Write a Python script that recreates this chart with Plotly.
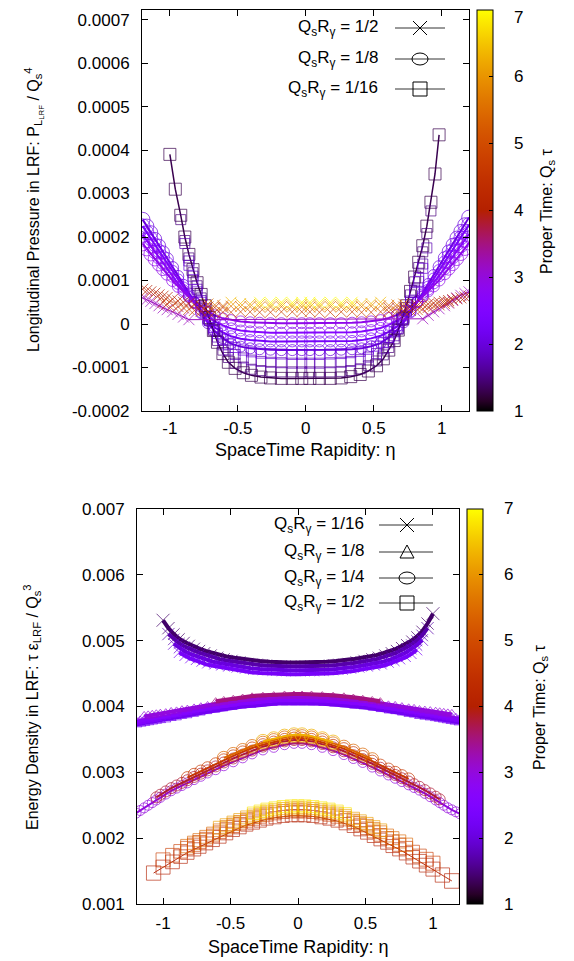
import math
import plotly.graph_objects as go

# ======================= DATA =======================
# Top panel: longitudinal pressure P_L / Qs^4   (values in units of 1e-4)
PL_UNIT = 1e-4
ETA_TOP_WIDE = [-1.2, -1.17, -1.14, -1.11, -1.08, -1.05, -1.02, -0.98, -0.94, -0.9, -0.86, -0.82,
                -0.77, -0.72, -0.67, -0.61, -0.55, -0.48, -0.41, -0.34, -0.26, -0.18, -0.1, -0.03,
                0.03, 0.1, 0.18, 0.26, 0.34, 0.41, 0.48, 0.55, 0.61, 0.67, 0.72, 0.77,
                0.82, 0.86, 0.9, 0.94, 0.98, 1.02, 1.05, 1.08, 1.11, 1.14, 1.17, 1.2]
ETA_TOP_SQ = [-1.0, -0.96, -0.92, -0.89, -0.86, -0.83, -0.8, -0.77, -0.74, -0.71, -0.68, -0.65,
              -0.61, -0.57, -0.52, -0.46, -0.4, -0.33, -0.26, -0.18, -0.1, -0.03,
              0.03, 0.1, 0.18, 0.26, 0.33, 0.4, 0.46, 0.52, 0.57, 0.61, 0.65, 0.68,
              0.71, 0.74, 0.77, 0.8, 0.83, 0.86, 0.89, 0.92, 0.95, 0.98]

# Q_s R_gamma = 1/2 (crosses)
TAU_TOP_HALF = [3.2, 4.0, 4.8, 5.6, 6.4, 7.0]
PL_TOP_HALF = [
    [0.6, 0.56, 0.52, 0.47, 0.42, 0.37, 0.33, 0.28, 0.22, 0.16, 0.1] + [None] * 13
    + [None] * 13 + [0.12, 0.2, 0.28, 0.35, 0.42, 0.48, 0.54, 0.6, 0.66, 0.7, 0.74],
    [0.8, 0.77, 0.74, 0.71, 0.67, 0.64, 0.61, 0.57, 0.53, 0.5, 0.47, 0.44, 0.41, 0.39, 0.38, 0.38] + [None] * 8
    + [None] * 8 + [0.37, 0.38, 0.39, 0.4, 0.42, 0.44, 0.46, 0.48, 0.5, 0.52, 0.54, 0.56, 0.58, 0.6, 0.62, 0.64],
    [None] * 5 + [0.5, 0.46, 0.43, 0.4, 0.37, 0.34, 0.31, 0.29, 0.28, 0.27, 0.27, 0.27, 0.28, 0.28, 0.27, 0.27, 0.28, 0.28, 0.28]
    + [0.28, 0.27, 0.27, 0.28, 0.28, 0.27, 0.27, 0.28, 0.28, 0.29, 0.3, 0.31, 0.33, 0.35, 0.38, 0.41, 0.44, 0.47, 0.5] + [None] * 5,
    [None] * 13 + [0.46, 0.44, 0.42, 0.41, 0.4, 0.4, 0.39, 0.39, 0.4, 0.39, 0.39]
    + [0.39, 0.39, 0.4, 0.39, 0.39, 0.4, 0.41, 0.42, 0.43, 0.44, 0.46] + [None] * 13,
    [None] * 16 + [0.5, 0.47, 0.46, 0.45, 0.44, 0.45, 0.44, 0.45]
    + [0.45, 0.44, 0.45, 0.44, 0.45, 0.46, 0.47, 0.5] + [None] * 16,
    [None] * 19 + [0.5, 0.49, 0.5, 0.49, 0.5]
    + [0.5, 0.49, 0.5, 0.49, 0.5] + [None] * 19,
]

# Q_s R_gamma = 1/8 (circles)
TAU_TOP_EIGHTH = [2.0, 2.3, 2.6, 2.9]
PL_TOP_EIGHTH = [
    [2.4, 2.25, 2.1, 1.95, 1.8, 1.65, 1.5, 1.3, 1.1, 0.9, 0.7, 0.5, 0.25, 0.02, -0.16, -0.33, -0.45, -0.52, -0.56, -0.58, -0.59, -0.6, -0.6, -0.6,
     -0.6, -0.6, -0.6, -0.59, -0.58, -0.56, -0.51, -0.44, -0.31, -0.14, 0.04, 0.27, 0.52, 0.72, 0.92, 1.12, 1.32, 1.52, 1.67, 1.82, 1.98, 2.13, 2.28, 2.45],
    [2.25, 2.1, 1.96, 1.82, 1.68, 1.54, 1.4, 1.21, 1.02, 0.84, 0.66, 0.48, 0.27, 0.07, -0.08, -0.19, -0.28, -0.34, -0.37, -0.39, -0.4, -0.4, -0.4, -0.4,
     -0.4, -0.4, -0.4, -0.4, -0.39, -0.37, -0.33, -0.27, -0.18, -0.06, 0.09, 0.29, 0.5, 0.68, 0.86, 1.04, 1.23, 1.42, 1.56, 1.7, 1.84, 1.98, 2.12, 2.28],
    [2.05, 1.92, 1.79, 1.66, 1.53, 1.4, 1.27, 1.1, 0.93, 0.78, 0.63, 0.49, 0.33, 0.18, 0.06, -0.03, -0.1, -0.15, -0.17, -0.19, -0.2, -0.2, -0.2, -0.2,
     -0.2, -0.2, -0.2, -0.2, -0.19, -0.17, -0.14, -0.09, -0.02, 0.07, 0.19, 0.34, 0.5, 0.64, 0.79, 0.94, 1.11, 1.28, 1.41, 1.54, 1.67, 1.8, 1.93, 2.07],
    [1.85, 1.73, 1.61, 1.49, 1.37, 1.26, 1.15, 1.0, 0.86, 0.74, 0.62, 0.51, 0.39, 0.29, 0.2, 0.13, 0.09, 0.06, 0.04, 0.03, 0.02, 0.02, 0.02, 0.02,
     0.02, 0.02, 0.02, 0.02, 0.03, 0.04, 0.06, 0.09, 0.14, 0.21, 0.3, 0.4, 0.52, 0.63, 0.75, 0.87, 1.01, 1.16, 1.27, 1.38, 1.5, 1.62, 1.74, 1.87],
]

# Q_s R_gamma = 1/16 (squares)
TAU_TOP_SIXTEENTH = [1.3, 1.5, 1.75, 2.0]
PL_TOP_SIXTEENTH = [
    [3.9, 3.1, 2.5, 2.0, 1.6, 1.25, 0.95, 0.68, 0.42, 0.15, -0.15, -0.42, -0.68, -0.88, -1.02, -1.12, -1.18, -1.22, -1.24, -1.25, -1.25, -1.25,
     -1.25, -1.25, -1.25, -1.24, -1.21, -1.16, -1.08, -0.96, -0.8, -0.6, -0.38, -0.14, 0.12, 0.42, 0.75, 1.08, 1.42, 1.8, 2.25, 2.8, 3.45, 4.35],
    [None, None, 2.4, 1.92, 1.52, 1.18, 0.88, 0.6, 0.35, 0.1, -0.15, -0.38, -0.6, -0.77, -0.9, -0.99, -1.04, -1.07, -1.09, -1.1, -1.1, -1.1,
     -1.1, -1.1, -1.1, -1.09, -1.07, -1.03, -0.96, -0.85, -0.71, -0.54, -0.34, -0.12, 0.12, 0.38, 0.67, 0.97, 1.3, 1.66, 2.08, 2.6, None, None],
    [None, None, None, 1.85, 1.45, 1.1, 0.8, 0.54, 0.3, 0.08, -0.12, -0.3, -0.48, -0.6, -0.7, -0.78, -0.83, -0.86, -0.88, -0.89, -0.9, -0.9,
     -0.9, -0.9, -0.89, -0.88, -0.86, -0.82, -0.76, -0.68, -0.57, -0.43, -0.27, -0.1, 0.09, 0.3, 0.53, 0.78, 1.06, 1.38, 1.75, None, None, None],
    [None, None, None, None, 1.35, 1.02, 0.74, 0.5, 0.28, 0.09, -0.08, -0.22, -0.36, -0.46, -0.54, -0.6, -0.64, -0.67, -0.68, -0.69, -0.7, -0.7,
     -0.7, -0.7, -0.69, -0.68, -0.66, -0.63, -0.58, -0.51, -0.42, -0.31, -0.18, -0.04, 0.12, 0.3, 0.5, 0.72, 0.98, 1.28, None, None, None, None],
]

# Bottom panel: energy density tau*eps / Qs^3   (values in units of 1e-3)
ED_UNIT = 1e-3
ETA_BOT_WIDE = ETA_TOP_WIDE
ETA_BOT_X = [-1.0, -0.96, -0.92, -0.88, -0.84, -0.8, -0.76, -0.72, -0.68, -0.63, -0.58, -0.53, -0.47, -0.41, -0.35, -0.28, -0.21, -0.14, -0.07,
             0.0, 0.07, 0.14, 0.21, 0.28, 0.35, 0.41, 0.47, 0.53, 0.58, 0.63, 0.68, 0.72, 0.76, 0.8, 0.84, 0.88, 0.92, 0.96, 1.0]
ETA_BOT_SQ = [-1.07, -1.0, -0.93, -0.87, -0.82, -0.77, -0.73, -0.68, -0.63, -0.58, -0.53, -0.48, -0.43, -0.38, -0.33, -0.28, -0.23, -0.17, -0.11, -0.05,
              0.0, 0.05, 0.11, 0.17, 0.23, 0.29, 0.35, 0.41, 0.46, 0.51, 0.56, 0.61, 0.66, 0.7, 0.75, 0.8, 0.85, 0.9, 0.95, 1.0, 1.07, 1.14]

# Q_s R_gamma = 1/16 (crosses)
TAU_BOT_SIXTEENTH = [1.4, 1.7, 2.0, 2.3]
ED_BOT_SIXTEENTH = [
    [5.31, 5.19, 5.1, 5.03, 4.98, 4.94, 4.9, 4.87, 4.84, 4.81, 4.78, 4.76, 4.74, 4.72, 4.7, 4.69, 4.68, 4.67, 4.67,
     4.67, 4.67, 4.67, 4.68, 4.69, 4.7, 4.72, 4.74, 4.76, 4.78, 4.81, 4.84, 4.87, 4.91, 4.95, 5.0, 5.06, 5.14, 5.26, 5.41],
    [None, 5.1, 5.02, 4.96, 4.91, 4.87, 4.84, 4.81, 4.78, 4.75, 4.72, 4.7, 4.68, 4.66, 4.64, 4.63, 4.62, 4.61, 4.61,
     4.61, 4.61, 4.61, 4.62, 4.63, 4.64, 4.66, 4.68, 4.7, 4.72, 4.75, 4.78, 4.81, 4.85, 4.89, 4.94, 5.0, 5.08, 5.19, None],
    [None, None, 4.95, 4.89, 4.84, 4.8, 4.77, 4.74, 4.71, 4.68, 4.66, 4.64, 4.62, 4.6, 4.58, 4.57, 4.56, 4.55, 4.55,
     4.55, 4.55, 4.55, 4.56, 4.57, 4.58, 4.6, 4.62, 4.64, 4.66, 4.68, 4.71, 4.74, 4.78, 4.82, 4.87, 4.93, 5.01, None, None],
    [None, None, None, 4.82, 4.77, 4.73, 4.7, 4.67, 4.64, 4.62, 4.6, 4.58, 4.56, 4.54, 4.52, 4.51, 4.5, 4.49, 4.49,
     4.49, 4.49, 4.49, 4.5, 4.51, 4.52, 4.54, 4.56, 4.58, 4.6, 4.62, 4.65, 4.68, 4.71, 4.75, 4.8, 4.86, None, None, None],
]

# Q_s R_gamma = 1/8 (triangles)
TAU_BOT_EIGHTH = [2.2, 2.6, 3.0, 3.5]
ED_BOT_EIGHTH = [
    [3.73, 3.74, 3.75, 3.76, 3.77, 3.78, 3.79, 3.8, 3.82, 3.83, 3.85, 3.86, 3.88, 3.9, 3.92, 3.94, 3.96, 3.98, 4.0, 4.01, 4.03, 4.04, 4.05, 4.05,
     4.05, 4.05, 4.04, 4.03, 4.02, 4.0, 3.99, 3.97, 3.95, 3.93, 3.92, 3.9, 3.88, 3.87, 3.85, 3.84, 3.83, 3.82, 3.81, 3.8, 3.79, 3.78, 3.77, 3.76],
    [3.77, 3.78, 3.79, 3.8, 3.81, 3.82, 3.83, 3.85, 3.87, 3.88, 3.9, 3.91, 3.93, 3.95, 3.97, 3.99, 4.01, 4.03, 4.05, 4.06, 4.08, 4.09, 4.1, 4.1,
     4.1, 4.1, 4.09, 4.08, 4.07, 4.05, 4.04, 4.02, 4.0, 3.98, 3.97, 3.95, 3.93, 3.92, 3.9, 3.89, 3.88, 3.87, 3.86, 3.85, 3.84, 3.83, 3.82, 3.81],
    [None, None, 3.85, 3.86, 3.87, 3.88, 3.89, 3.9, 3.92, 3.93, 3.95, 3.96, 3.98, 4.0, 4.02, 4.04, 4.06, 4.08, 4.1, 4.11, 4.13, 4.14, 4.15, 4.15,
     4.15, 4.15, 4.14, 4.13, 4.12, 4.1, 4.09, 4.07, 4.05, 4.03, 4.02, 4.0, 3.98, 3.97, 3.95, 3.94, 3.93, 3.92, 3.91, 3.9, 3.89, 3.88, None, None],
    [None] * 15 + [4.08, 4.1, 4.12, 4.14, 4.16, 4.17, 4.18, 4.19, 4.19]
    + [4.19, 4.19, 4.18, 4.17, 4.16, 4.14, 4.12, 4.1, 4.08] + [None] * 15,
]

# Q_s R_gamma = 1/4 (circles)
TAU_BOT_QUARTER = [3.0, 3.8, 4.6, 5.4, 6.3]
ED_BOT_QUARTER = [
    [2.38, 2.42, 2.46, 2.5, 2.54, 2.58, 2.62, 2.67, 2.72, 2.76, 2.8, 2.84, 2.89, 2.94, 2.99, 3.04, 3.1, 3.16, 3.22, 3.28, 3.34, 3.38, 3.42, 3.44,
     3.44, 3.42, 3.38, 3.33, 3.27, 3.21, 3.15, 3.08, 3.02, 2.96, 2.91, 2.86, 2.81, 2.77, 2.73, 2.68, 2.63, 2.58, 2.54, 2.5, 2.46, 2.43, 2.4, 2.37],
    [None] * 5 + [2.62, 2.66, 2.71, 2.76, 2.8, 2.84, 2.88, 2.93, 2.98, 3.03, 3.09, 3.15, 3.21, 3.27, 3.33, 3.39, 3.43, 3.47, 3.49]
    + [3.49, 3.47, 3.43, 3.38, 3.32, 3.26, 3.2, 3.13, 3.07, 3.01, 2.96, 2.91, 2.86, 2.82, 2.78, 2.73, 2.68, 2.63, 2.59] + [None] * 5,
    [None] * 11 + [2.92, 2.97, 3.02, 3.07, 3.13, 3.19, 3.25, 3.31, 3.37, 3.42, 3.46, 3.5, 3.52]
    + [3.52, 3.5, 3.46, 3.41, 3.36, 3.3, 3.24, 3.17, 3.11, 3.05, 3.0, 2.95, 2.9] + [None] * 11,
    [None] * 16 + [3.22, 3.28, 3.34, 3.4, 3.45, 3.49, 3.53, 3.55]
    + [3.55, 3.53, 3.49, 3.44, 3.39, 3.33, 3.27, 3.2] + [None] * 16,
    [None] * 20 + [3.47, 3.51, 3.55, 3.57]
    + [3.57, 3.55, 3.51, 3.46] + [None] * 20,
]

# Q_s R_gamma = 1/2 (squares)
TAU_BOT_HALF = [4.0, 4.7, 5.4, 6.1, 6.8]
ED_BOT_HALF = [
    [1.47, 1.56, 1.64, 1.72, 1.78, 1.83, 1.87, 1.92, 1.97, 2.02, 2.07, 2.12, 2.16, 2.2, 2.23, 2.26, 2.29, 2.31, 2.33, 2.34,
     2.34, 2.34, 2.33, 2.31, 2.29, 2.26, 2.22, 2.18, 2.13, 2.08, 2.03, 1.98, 1.93, 1.88, 1.83, 1.77, 1.71, 1.65, 1.59, 1.53, 1.44, 1.35],
    [None, 1.67, 1.74, 1.8, 1.85, 1.9, 1.94, 1.99, 2.04, 2.09, 2.14, 2.18, 2.22, 2.26, 2.29, 2.32, 2.35, 2.37, 2.39, 2.4,
     2.4, 2.4, 2.39, 2.37, 2.35, 2.32, 2.28, 2.24, 2.2, 2.15, 2.1, 2.05, 2.0, 1.95, 1.9, 1.85, 1.79, 1.73, 1.68, 1.62, None, None],
    [None] * 4 + [1.88, 1.93, 1.97, 2.02, 2.07, 2.12, 2.17, 2.21, 2.25, 2.29, 2.32, 2.35, 2.38, 2.4, 2.42, 2.43,
     2.43, 2.43, 2.42, 2.4, 2.38, 2.35, 2.31, 2.27, 2.23, 2.19, 2.14, 2.09, 2.04, 2.0, 1.95, 1.9] + [None] * 6,
    [None] * 9 + [2.16, 2.2, 2.24, 2.28, 2.32, 2.35, 2.38, 2.41, 2.43, 2.45, 2.46,
     2.46, 2.46, 2.45, 2.43, 2.41, 2.38, 2.34, 2.3, 2.26, 2.22, 2.17, 2.12] + [None] * 10,
    [None] * 14 + [2.38, 2.41, 2.44, 2.46, 2.48, 2.49,
     2.49, 2.49, 2.48, 2.46, 2.44, 2.41, 2.37] + [None] * 15,
]

X_TICKS = [-1, -0.5, 0, 0.5, 1]
X_TICK_LABELS = ["-1", "-0.5", "0", "0.5", "1"]
TOP_Y_TICKS = [-0.0002, -0.0001, 0, 0.0001, 0.0002, 0.0003, 0.0004, 0.0005, 0.0006, 0.0007]
TOP_Y_TICK_LABELS = ["-0.0002", "-0.0001", "0", "0.0001", "0.0002", "0.0003", "0.0004", "0.0005", "0.0006", "0.0007"]
BOT_Y_TICKS = [0.001, 0.002, 0.003, 0.004, 0.005, 0.006, 0.007]
BOT_Y_TICK_LABELS = ["0.001", "0.002", "0.003", "0.004", "0.005", "0.006", "0.007"]
CB_TICKS = [1, 2, 3, 4, 5, 6, 7]
CB_TICK_LABELS = ["1", "2", "3", "4", "5", "6", "7"]

TOP_LEGEND = ["Q<sub>s</sub>R<sub>γ</sub> = 1/2", "Q<sub>s</sub>R<sub>γ</sub> = 1/8", "Q<sub>s</sub>R<sub>γ</sub> = 1/16"]
BOT_LEGEND = ["Q<sub>s</sub>R<sub>γ</sub> = 1/16", "Q<sub>s</sub>R<sub>γ</sub> = 1/8",
              "Q<sub>s</sub>R<sub>γ</sub> = 1/4", "Q<sub>s</sub>R<sub>γ</sub> = 1/2"]

# ======================= STYLE / LAYOUT =======================
PAGE_W, PAGE_H = 574, 961
OFF = 8                      # default page body margin
W, H = PAGE_W - OFF, PAGE_H - OFF
FONT = "Liberation Sans, Arial, Helvetica, sans-serif"


def px(x):   # page pixel -> paper fraction
    return (x - OFF) / W


def py(y):
    return 1 - (y - OFF) / H


def palette(t):  # gnuplot rgbformulae 7,5,15
    t = max(0.0, min(1.0, t))
    r = math.sqrt(t)
    g = t ** 3
    b = max(0.0, min(1.0, math.sin(2 * math.pi * t)))
    return "rgb(%d,%d,%d)" % (round(255 * r), round(255 * g), round(255 * b))


COLORSCALE = [[i / 40, palette(i / 40)] for i in range(41)]


def tau_color(tau):
    return palette((tau - 1) / 6)


fig = go.Figure()


def add_series(eta, snaps, taus, unit, symbol, xa, ya, cax, sizefn, lw=1.0, all_lines=False, opacity=1.0):
    for k, (vals, tau) in enumerate(zip(snaps, taus)):
        assert len(vals) == len(eta), (symbol, k, len(vals), len(eta))
        xs = [e for e, v in zip(eta, vals) if v is not None]
        ys = [v * unit for v in vals if v is not None]
        fig.add_trace(go.Scatter(
            x=xs, y=ys, xaxis=xa, yaxis=ya,
            mode="lines+markers" if (k == 0 or all_lines) else "markers",
            line=dict(color=tau_color(tau), width=lw),
            marker=dict(symbol=symbol, size=[sizefn(e, k) for e in xs], color=[tau] * len(xs),
                        coloraxis=cax, line=dict(width=1)),
            opacity=opacity, showlegend=False, hoverinfo="skip"))


# top panel
add_series(ETA_TOP_WIDE, PL_TOP_EIGHTH, TAU_TOP_EIGHTH, PL_UNIT, "circle-open", "x", "y", "coloraxis",
           lambda e, k: 11 + 2 * max(0, abs(e) - 0.9) * 6, lw=2, all_lines=True)
add_series(ETA_TOP_SQ, PL_TOP_SIXTEENTH, TAU_TOP_SIXTEENTH, PL_UNIT, "square-open", "x", "y", "coloraxis",
           lambda e, k: 10 + (2 if k == 0 else 0), lw=1.5)
add_series(ETA_TOP_WIDE, PL_TOP_HALF, TAU_TOP_HALF, PL_UNIT, "x-thin-open", "x", "y", "coloraxis",
           lambda e, k: 11)
# bottom panel
add_series(ETA_BOT_X, ED_BOT_SIXTEENTH, TAU_BOT_SIXTEENTH, ED_UNIT, "x-thin-open", "x2", "y2", "coloraxis2",
           lambda e, k: 4 + 9 * e * e, lw=4, all_lines=True)
add_series(ETA_BOT_WIDE, ED_BOT_EIGHTH, TAU_BOT_EIGHTH, ED_UNIT, "triangle-up-open", "x2", "y2", "coloraxis2",
           lambda e, k: 6 + 3 * e * e, lw=4, all_lines=True)
add_series(ETA_BOT_WIDE, ED_BOT_QUARTER, TAU_BOT_QUARTER, ED_UNIT, "circle-open", "x2", "y2", "coloraxis2",
           lambda e, k: 10 + k, lw=2, all_lines=True)
add_series(ETA_BOT_SQ, ED_BOT_HALF, TAU_BOT_HALF, ED_UNIT, "square-open", "x2", "y2", "coloraxis2",
           lambda e, k: 12 + 2 * e * e, opacity=0.9)

axis_common = dict(showline=True, linecolor="black", linewidth=1, mirror="allticks", ticks="inside",
                   ticklen=6, tickcolor="black", showgrid=False, zeroline=False,
                   tickfont=dict(family=FONT, size=17, color="black"))

cb_common = dict(thickness=16, thicknessmode="pixels", lenmode="fraction", xanchor="left", yanchor="top",
                 xpad=0, ypad=0, outlinewidth=1, outlinecolor="black", tickvals=CB_TICKS,
                 ticks="inside", ticklen=4, tickcolor="black", showticklabels=False)

# colorbar geometry in page pixels (left, top, bottom)
CB_TOP = (477, 10, 411)
CB_BOT = (467, 509, 904)

fig.update_layout(
    width=W, height=H, margin=dict(l=0, r=0, t=0, b=0, autoexpand=False),
    paper_bgcolor="white", plot_bgcolor="white",
    font=dict(family=FONT, size=17, color="black"),
    xaxis=dict(domain=[px(142), px(469)], range=[-1.205, 1.2], anchor="y",
               tickvals=X_TICKS, ticktext=X_TICK_LABELS, ticklabelstandoff=2, **axis_common),
    yaxis=dict(domain=[py(411), py(10)], range=[-0.0002, 0.000722], anchor="x",
               tickvals=TOP_Y_TICKS, ticktext=TOP_Y_TICK_LABELS, ticklabelstandoff=8, **axis_common),
    xaxis2=dict(domain=[px(137), px(459)], range=[-1.193, 1.193], anchor="y2",
                tickvals=X_TICKS, ticktext=X_TICK_LABELS, ticklabelstandoff=4, **axis_common),
    yaxis2=dict(domain=[py(904), py(509)], range=[0.001, 0.007], anchor="x2",
                tickvals=BOT_Y_TICKS, ticktext=BOT_Y_TICK_LABELS, ticklabelstandoff=8, **axis_common),
    coloraxis=dict(colorscale=COLORSCALE, cmin=1, cmax=7,
                   colorbar=dict(x=px(CB_TOP[0]), y=py(CB_TOP[1]), len=(CB_TOP[2] - CB_TOP[1]) / H, **cb_common)),
    coloraxis2=dict(colorscale=COLORSCALE, cmin=1, cmax=7,
                    colorbar=dict(x=px(CB_BOT[0]), y=py(CB_BOT[1]), len=(CB_BOT[2] - CB_BOT[1]) / H, **cb_common)),
)

annotations = []
shapes = []


def label(text, x, y, size=17, angle=0, xanchor="center"):
    annotations.append(dict(text=text, x=px(x), y=py(y), xref="paper", yref="paper", showarrow=False,
                            textangle=angle, xanchor=xanchor, yanchor="middle",
                            font=dict(family=FONT, size=size, color="black")))


# colorbar tick labels (kept inside the page)
for (left, top, bottom) in (CB_TOP, CB_BOT):
    for v, t in zip(CB_TICKS, CB_TICK_LABELS):
        ypix = bottom - (v - CB_TICKS[0]) / (CB_TICKS[-1] - CB_TICKS[0]) * (bottom - top)
        label(t, left + 35, max(ypix, 17), 17, 0, "left")

label("Longitudinal Pressure in LRF: P<sub>L<sub>LRF</sub></sub> / Q<sub>s</sub><sup>4</sup>", 34, 210, 16, -90)
label("SpaceTime Rapidity: η", 305, 450, 18)
label("Proper Time: Q<sub>s</sub> τ", 548, 211, 16, -90)
label("Energy Density in LRF: τ ε<sub>LRF</sub> / Q<sub>s</sub><sup>3</sup>", 32, 707, 16, -90)
label("SpaceTime Rapidity: η", 298, 947, 18)
label("Proper Time: Q<sub>s</sub> τ", 540, 707, 16, -90)


def key_line(x0, x1, y):
    shapes.append(dict(type="line", xref="paper", yref="paper", x0=px(x0), x1=px(x1), y0=py(y), y1=py(y),
                       line=dict(color="#333", width=1)))


def key_symbol(kind, xc, y, r=7):
    ln = dict(color="black", width=1)
    if kind == "x":
        shapes.append(dict(type="line", xref="paper", yref="paper", x0=px(xc - r), x1=px(xc + r),
                           y0=py(y - r), y1=py(y + r), line=ln))
        shapes.append(dict(type="line", xref="paper", yref="paper", x0=px(xc - r), x1=px(xc + r),
                           y0=py(y + r), y1=py(y - r), line=ln))
    elif kind == "o":
        shapes.append(dict(type="circle", xref="paper", yref="paper", x0=px(xc - r - 1), x1=px(xc + r + 1),
                           y0=py(y + r - 1), y1=py(y - r + 1), line=ln))
    elif kind == "s":
        shapes.append(dict(type="rect", xref="paper", yref="paper", x0=px(xc - r), x1=px(xc + r),
                           y0=py(y + r), y1=py(y - r), line=ln))
    elif kind == "t":
        path = "M %f,%f L %f,%f L %f,%f Z" % (px(xc), py(y - r), px(xc - r), py(y + r - 1), px(xc + r), py(y + r - 1))
        shapes.append(dict(type="path", xref="paper", yref="paper", path=path, line=ln))


for text, yy, kind in zip(TOP_LEGEND, [28, 59, 89], ["x", "o", "s"]):
    label(text, 380, yy, 17, 0, "right")
    key_line(395, 445, yy)
    key_symbol(kind, 420, yy)

for text, yy, kind in zip(BOT_LEGEND, [525, 552, 578, 603], ["x", "t", "o", "s"]):
    label(text, 366, yy, 17, 0, "right")
    key_line(379, 433, yy)
    key_symbol(kind, 407, yy)

fig.update_layout(annotations=annotations, shapes=shapes)
fig.write_html("out.html")
